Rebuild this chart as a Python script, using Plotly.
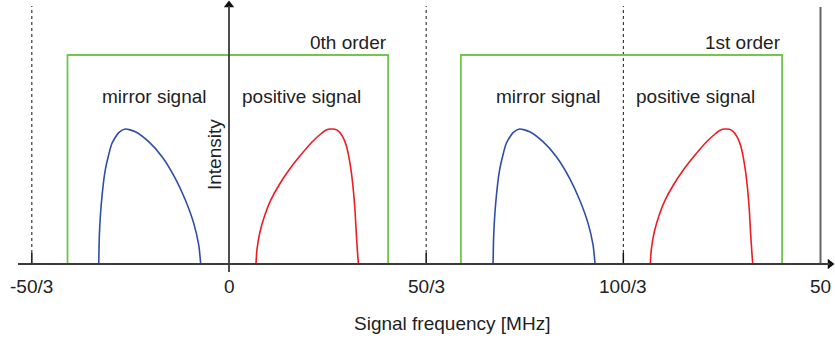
import plotly.graph_objects as go

# ---------------- data ----------------
tick_vals = [-50/3, 0, 50/3, 100/3, 50]
tick_text = ["-50/3", "0", "50/3", "100/3", "50"]
dotted_x = [-50/3, 50/3, 100/3]
order_centers = [0, 100/3]
order_labels = ["0th order", "1st order"]
box_left = [-13.65, 19.6]
box_right = [13.45, 46.75]
box_top = 1.548

# positive signal (red), relative to order center
pos_x = [2.28, 2.36, 2.62, 3.04, 3.52, 4.23, 5.07, 6.06, 7.04, 7.75, 8.22, 8.59, 8.96,
         9.30, 9.64, 9.92, 10.14, 10.34, 10.51, 10.65, 10.76, 10.87, 10.94]
pos_y = [0.0, 0.105, 0.239, 0.365, 0.471, 0.585, 0.696, 0.807, 0.906, 0.963, 0.993, 1.0, 0.998,
         0.98, 0.938, 0.876, 0.79, 0.68, 0.548, 0.40, 0.227, 0.079, 0.0]
# mirror signal (blue), relative to order center
mir_x = [-11.01, -10.96, -10.79, -10.46, -9.89, -9.32, -8.77, -7.92, -6.79, -5.66, -4.54, -3.69, -2.98, -2.56, -2.39]
mir_y = [0.0, 0.21, 0.45, 0.696, 0.894, 0.973, 1.0, 0.98, 0.906, 0.795, 0.635, 0.474, 0.301, 0.141, 0.0]

mirror_label_x = -6.3
positive_label_x = 6.1
signal_label_y = 1.244

# ---------------- styles ----------------
BLUE = "#2f4ea6"
RED = "#ee1c25"
GREEN = "#70c64e"
AXIS = "#3a3a3a"
TEXT = "#222222"
FONT = "Liberation Sans, Arial, sans-serif"
FS = 19

PX_PER_X = 11.83
PX_PER_Y = 135.0
X0_PX = 229
Y0_PX = 264
W, H = 835, 340

xr = [-X0_PX / PX_PER_X, (W - X0_PX) / PX_PER_X]
yr = [-(H - Y0_PX) / PX_PER_Y, Y0_PX / PX_PER_Y]

fig = go.Figure()

# curves
for c in order_centers:
    fig.add_trace(go.Scatter(x=[v + c for v in mir_x], y=mir_y, mode="lines",
                             line=dict(color=BLUE, width=1.6, shape="spline", smoothing=0.6),
                             hoverinfo="skip", showlegend=False))
    fig.add_trace(go.Scatter(x=[v + c for v in pos_x], y=pos_y, mode="lines",
                             line=dict(color=RED, width=1.6, shape="spline", smoothing=0.6),
                             hoverinfo="skip", showlegend=False))

shapes = []
# dotted lines + short solid ticks
for xv in dotted_x:
    shapes.append(dict(type="line", xref="x", yref="y", x0=xv, x1=xv,
                       y0=(Y0_PX - 253) / PX_PER_Y, y1=(Y0_PX - 6) / PX_PER_Y,
                       line=dict(color="#111", width=1, dash="dot")))
    shapes.append(dict(type="line", xref="x", yref="y", x0=xv, x1=xv,
                       y0=0, y1=(Y0_PX - 253) / PX_PER_Y,
                       line=dict(color="#111", width=1.5)))
# gray line at 50
shapes.append(dict(type="line", xref="x", yref="y", x0=tick_vals[-1], x1=tick_vals[-1],
                   y0=0, y1=(Y0_PX - 7) / PX_PER_Y, line=dict(color="#666", width=2)))
# green boxes
for l, r in zip(box_left, box_right):
    shapes.append(dict(type="path", xref="x", yref="y",
                       path=f"M {l},0 L {l},{box_top} L {r},{box_top} L {r},0",
                       line=dict(color=GREEN, width=1.8)))
# axes
shapes.append(dict(type="line", xref="x", yref="y", x0=(18 - X0_PX) / PX_PER_X,
                   x1=(830 - X0_PX) / PX_PER_X, y0=0, y1=0, line=dict(color=AXIS, width=2)))
shapes.append(dict(type="line", xref="x", yref="y", x0=0, x1=0,
                   y0=-(272 - Y0_PX) / PX_PER_Y, y1=(Y0_PX - 6) / PX_PER_Y,
                   line=dict(color=AXIS, width=1.8)))

# arrowheads
fig.add_trace(go.Scatter(x=[0], y=[(Y0_PX - 5) / PX_PER_Y], mode="markers",
                         marker=dict(symbol="triangle-up", size=9, color="#111"),
                         hoverinfo="skip", showlegend=False))
fig.add_trace(go.Scatter(x=[(830 - X0_PX) / PX_PER_X], y=[0], mode="markers",
                         marker=dict(symbol="triangle-right", size=9, color="#111"),
                         hoverinfo="skip", showlegend=False))

ann = []
for tv, tt in zip(tick_vals, tick_text):
    ann.append(dict(x=tv, y=-22 / PX_PER_Y, text=tt, showarrow=False, xanchor="center",
                    yanchor="middle", font=dict(size=FS, color=TEXT, family=FONT)))
ann.append(dict(x=(452 - X0_PX) / PX_PER_X, y=-59 / PX_PER_Y, text="Signal frequency [MHz]",
                showarrow=False, xanchor="center", yanchor="middle",
                font=dict(size=FS, color=TEXT, family=FONT)))
ann.append(dict(x=(214 - X0_PX) / PX_PER_X, y=(Y0_PX - 155) / PX_PER_Y, text="Intensity",
                textangle=-90, showarrow=False, xanchor="center", yanchor="middle",
                font=dict(size=FS, color=TEXT, family=FONT)))
for c, r, lab in zip(order_centers, box_right, order_labels):
    ann.append(dict(x=r, y=(Y0_PX - 42) / PX_PER_Y, text=lab, showarrow=False,
                    xanchor="right", yanchor="middle", xshift=1,
                    font=dict(size=FS, color=TEXT, family=FONT)))
    ann.append(dict(x=c + mirror_label_x, y=signal_label_y, text="mirror signal", showarrow=False,
                    xanchor="center", yanchor="middle", font=dict(size=FS, color=TEXT, family=FONT)))
    ann.append(dict(x=c + positive_label_x, y=signal_label_y, text="positive signal", showarrow=False,
                    xanchor="center", yanchor="middle", font=dict(size=FS, color=TEXT, family=FONT)))

fig.update_layout(
    width=W, height=H, autosize=False,
    margin=dict(l=0, r=0, t=0, b=0, pad=0),
    paper_bgcolor="white", plot_bgcolor="white",
    xaxis=dict(range=xr, visible=False, fixedrange=True),
    yaxis=dict(range=yr, visible=False, fixedrange=True),
    shapes=shapes, annotations=ann, showlegend=False,
)

fig.write_html("out.html", config={"displayModeBar": False})
